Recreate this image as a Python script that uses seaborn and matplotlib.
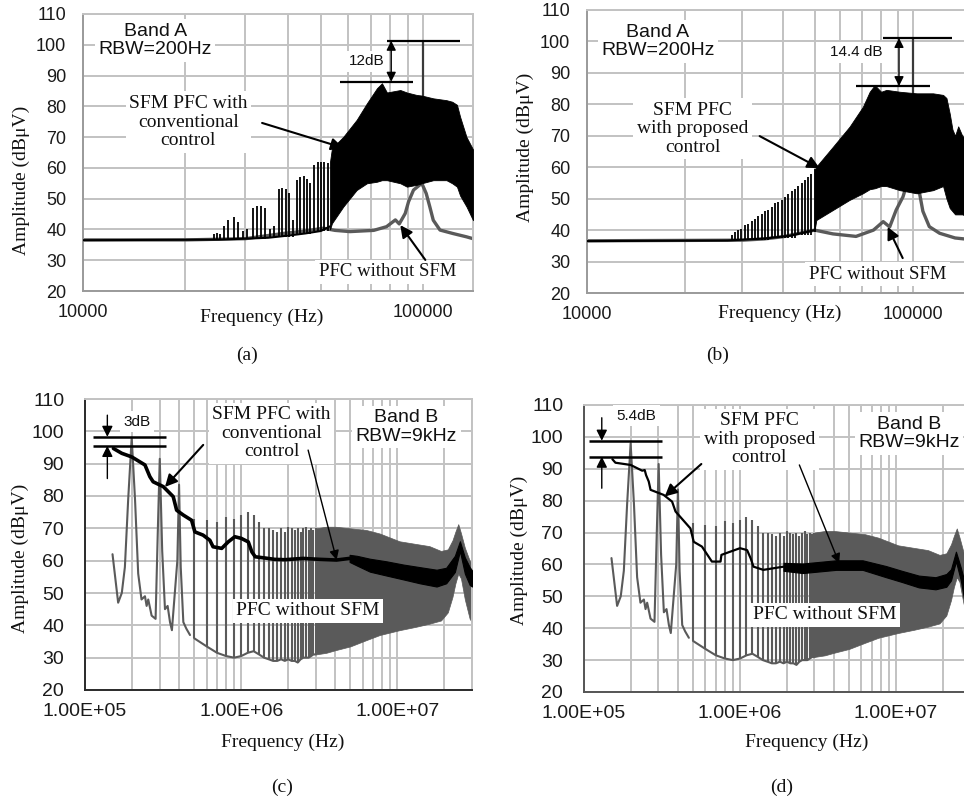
import seaborn as sns
import matplotlib.pyplot as plt
from matplotlib.ticker import NullFormatter

W, H = 964, 808
SANS = ['Liberation Sans', 'DejaVu Sans']
SERIF = ['Liberation Serif', 'DejaVu Serif']
GRID = '#c2c2c2'
GRAY = '#5a5a5a'

# ---------------- Band A, panel (a): conventional control ----------------
a_gray_f = [10000, 20000, 30000, 38800, 45000, 50900, 55000, 60900, 71500, 78000, 82800, 85000,
            88500, 90500, 93600, 96500, 99000, 102000, 104500, 107000, 112000, 122000, 134000, 140000]
a_gray_db = [36.6, 36.6, 37.0, 38.7, 39.5, 40.4, 39.7, 39.3, 39.7, 40.9, 43.1, 41.8,
             45.2, 49.0, 52.8, 54.0, 55.0, 51.7, 47.4, 43.0, 39.8, 38.7, 37.6, 37.0]
a_peak = [100000, 55.0, 101.3]

a_base_f = [10000, 25000, 30000, 35000, 40000, 45000, 50000, 53200]
a_base_db = [36.5, 36.7, 37.0, 37.3, 38.0, 38.7, 39.5, 41.0]

a_spk_f = [24300, 24800, 25300, 25900, 26700, 27700, 28600, 29600, 30300, 31600, 32500, 33400,
           34200, 35500, 36500, 37700, 38500, 39400, 40300, 41300, 42500, 43500, 44500, 45500,
           46500, 47800, 48900, 50100, 51200, 52500]
a_spk_db = [38.5, 39.0, 38.5, 41.0, 43.0, 44.0, 42.5, 39.5, 40.0, 47.0, 47.5, 47.5,
            47.0, 40.0, 41.0, 53.0, 53.5, 53.0, 52.0, 43.0, 56.0, 57.0, 57.5, 56.5,
            55.0, 61.0, 62.0, 62.0, 62.0, 61.5]
a_spk_lo = [36.8, 36.8, 36.8, 36.8, 36.8, 36.8, 36.8, 36.8, 36.8, 36.8, 36.8, 36.8,
            36.8, 37.5, 37.5, 37.5, 37.5, 37.5, 37.5, 37.5, 38.5, 38.5, 38.5, 38.5,
            38.5, 39.5, 39.5, 39.5, 39.5, 39.5]

a_band_f = [53200, 53900, 58200, 63700, 68300, 73100, 75600, 78200, 85600, 89500, 95600, 99000,
            107000, 117000, 121600, 125600, 128300, 134000, 140000]
a_band_hi = [62, 66.4, 70.1, 75.6, 81.0, 85.9, 87.5, 84.5, 85.3, 84.5, 83.7, 83.5,
             82.6, 82.0, 81.5, 80.5, 76.6, 70.0, 66.0]
a_band_lo = [40, 42.0, 47.4, 52.8, 55.0, 55.5, 56.0, 56.0, 55.0, 53.9, 54.5, 55.0,
             56.0, 56.0, 55.0, 53.9, 51.0, 47.4, 43.0]

# ---------------- Band A, panel (b): proposed control ----------------
b_gray_f = [10000, 30000, 35000, 40000, 50000, 56900, 67000, 75800, 81200, 85000, 89000,
            93400, 95500, 98000, 102000, 105000, 107500, 112500, 121000, 135000, 150000]
b_gray_db = [36.6, 36.8, 37.2, 37.9, 40.0, 38.8, 38.0, 40.0, 42.7, 41.0, 46.4,
             50.6, 53.9, 55.0, 53.0, 51.7, 46.0, 41.1, 39.0, 37.5, 37.0]
b_peak = [100000, 55.0, 101.1]

b_base_f = [10000, 27000, 35000, 42000, 50000]
b_base_db = [36.5, 36.7, 37.3, 38.2, 40.0]

b_spk_f = [27800, 28400, 29100, 29800, 30500, 31300, 32000, 32800, 33500, 34400, 35200, 36000,
           36900, 37700, 38600, 39600, 40500, 41400, 42500, 43500, 44500, 45600, 46600, 47700,
           48900, 50000]
b_spk_db = [38.5, 39.5, 40.0, 40.5, 41.5, 42.0, 43.0, 43.5, 44.5, 45.0, 46.0, 46.5,
            47.5, 48.5, 49.0, 49.5, 50.5, 51.5, 52.5, 53.0, 54.0, 55.0, 56.0, 57.0,
            58.0, 59.5]
b_spk_lo = [36.8, 36.8, 36.8, 36.8, 36.8, 36.8, 36.8, 36.8, 36.8, 36.8, 36.8, 36.8,
            37.5, 37.5, 37.5, 37.5, 37.5, 37.5, 37.5, 37.5, 38.5, 38.5, 38.5, 38.5,
            38.5, 39.5]

b_band_f = [50000, 50600, 56900, 64000, 70300, 73800, 76500, 80000, 83100, 91300, 102900,
            115500, 124000, 127000, 130000, 132500, 135000, 138000, 142000, 150000]
b_band_hi = [59, 60.2, 66.5, 72.9, 79.2, 84.0, 86.1, 84.0, 84.6, 84.0, 83.5,
             83.5, 83.0, 82.0, 77.0, 72.0, 70.0, 73.0, 70.0, 68.0]
b_band_lo = [40, 43.2, 46.4, 49.6, 51.7, 53.0, 53.3, 54.0, 54.0, 52.7, 51.7,
             52.7, 54.0, 50.0, 47.0, 46.0, 45.0, 45.0, 45.0, 44.0]

# ---------------- Band B, PFC without SFM (same in (c) and (d)) ----------------
cd_gray_f = [1.50e5, 1.63e5, 1.72e5, 1.80e5, 1.89e5, 1.99e5, 2.09e5, 2.19e5, 2.30e5, 2.42e5,
             2.48e5, 2.54e5, 2.67e5, 2.83e5, 2.92e5, 3.01e5, 3.12e5, 3.25e5, 3.38e5, 3.50e5,
             3.60e5, 3.90e5, 4.00e5, 4.10e5, 4.26e5, 4.45e5, 4.70e5]
cd_gray_db = [62, 47, 50, 58, 79, 98, 79, 56, 48, 49,
              46, 48, 43, 42, 68, 91.5, 63, 45, 46, 41,
              38.5, 60, 83.5, 58, 41, 39, 37]

cd_spk_f = [5.0e5, 6.0e5, 7.0e5, 8.0e5, 9.0e5, 1.0e6, 1.1e6, 1.2e6, 1.3e6, 1.4e6, 1.5e6, 1.6e6,
            1.7e6, 1.8e6, 1.9e6, 2.0e6, 2.1e6, 2.2e6, 2.3e6, 2.4e6, 2.5e6, 2.6e6, 2.7e6, 2.8e6,
            2.9e6, 3.0e6]
cd_spk_db = [73, 72.5, 72, 73.5, 73, 74, 75, 74, 72, 70, 70, 69.5,
             69, 70, 69, 70.5, 70, 69.5, 70, 69, 70, 70.5, 69.5, 70,
             69.5, 70]
cd_spk_lo = [36, 33.5, 31.5, 30.5, 30, 30.5, 31.5, 32, 31, 30, 29.5, 29,
             29, 29.5, 29, 29.5, 29, 29, 28.5, 29.5, 30, 30, 30, 30.5,
             31, 31]

cd_band_f = [3.0e6, 3.5e6, 4.0e6, 5.0e6, 6.3e6, 7.7e6, 1.03e7, 1.3e7, 1.6e7, 1.9e7, 2.1e7,
             2.25e7, 2.35e7, 2.45e7, 2.55e7, 2.7e7, 2.9e7, 3.0e7]
cd_band_hi = [70, 70.5, 70.5, 70, 69.5, 68.4, 66, 65.2, 64.5, 63, 63.5,
              66.3, 69, 71.3, 68.5, 64, 60, 59]
cd_band_lo = [31, 31.5, 32.3, 33.5, 35.4, 37, 38.5, 39.5, 40.5, 41.5, 44,
              48.8, 53, 56, 54.5, 48, 42, 41]

# ---------------- Band B, panel (c): conventional control ----------------
c_blk_f = [1.52e5, 1.72e5, 1.99e5, 2.42e5, 2.60e5, 2.73e5, 3.17e5, 3.67e5, 3.86e5, 4.26e5,
           4.81e5, 5.05e5, 5.70e5, 6.30e5, 6.60e5, 7.50e5, 8.25e5, 9.10e5, 1.00e6, 1.11e6,
           1.17e6, 1.23e6, 1.43e6, 1.64e6, 1.90e6, 2.49e6, 3.2e6, 4.07e6, 4.94e6]
c_blk_db = [94.7, 93.2, 92.1, 89.6, 86.0, 84.4, 82.9, 79.8, 75.6, 74.1,
            72.5, 68.9, 67.9, 66.3, 64.3, 63.8, 65.8, 67.4, 66.9, 65.8,
            62.7, 61.2, 60.8, 60.4, 60.3, 60.7, 60.4, 60.2, 60.7]
c_bb_f = [4.94e6, 5.5e6, 6.66e6, 8.5e6, 1.09e7, 1.39e7, 1.78e7, 2.05e7, 2.33e7, 2.51e7,
          2.7e7, 2.9e7, 3.0e7]
c_bb_hi = [61.8, 61.5, 60.6, 59.8, 58.8, 58.0, 57.2, 57.8, 61.5, 66.0, 61.0, 58.0, 57.0]
c_bb_lo = [59.6, 58.5, 56.6, 55.4, 54.2, 53.0, 52.0, 53.0, 56.5, 63.0, 56.0, 52.5, 52.0]

# ---------------- Band B, panel (d): proposed control ----------------
d_blk_f = [1.52e5, 1.59e5, 1.99e5, 2.36e5, 2.45e5, 2.50e5, 2.60e5, 2.67e5, 3.24e5, 3.67e5,
           3.86e5, 4.81e5, 5.05e5, 5.70e5, 6.30e5, 6.60e5, 7.50e5, 7.60e5, 8.65e5, 1.00e6,
           1.11e6, 1.17e6, 1.22e6, 1.41e6, 1.90e6]
d_blk_db = [93.0, 91.9, 91.2, 89.4, 89.6, 88.0, 86.0, 83.4, 81.8, 79.7,
            76.6, 71.3, 67.1, 65.6, 62.4, 60.9, 60.9, 63.0, 64.0, 65.1,
            64.5, 61.9, 59.3, 58.3, 59.3]
d_bb_f = [1.9e6, 2.52e6, 4.12e6, 6.1e6, 8.62e6, 1.09e7, 1.4e7, 1.79e7, 2.1e7, 2.25e7,
          2.42e7, 2.6e7, 2.8e7]
d_bb_hi = [60.5, 60.3, 61.3, 61.3, 59.5, 58.0, 56.5, 56.0, 57.0, 58.5, 64.0, 59.0, 53.0]
d_bb_lo = [58.0, 57.3, 58.3, 58.3, 56.0, 54.5, 52.8, 52.2, 53.0, 55.0, 61.0, 55.0, 46.0]

y_ticks = list(range(20, 111, 10))
a_major = [1e4, 1e5]
a_major_lbl = ['10000', '100000']
a_minor = [2e4, 3e4, 4e4, 5e4, 6e4, 7e4, 8e4, 9e4]
c_major = [1e5, 1e6, 1e7]
c_major_lbl = ['1.00E+05', '1.00E+06', '1.00E+07']
c_minor = [2e5, 3e5, 4e5, 5e5, 6e5, 7e5, 8e5, 9e5, 2e6, 3e6, 4e6, 5e6, 6e6, 7e6, 8e6, 9e6, 2e7, 3e7]

sns.set_theme(style='white')
plt.rcParams['font.family'] = SANS

fig = plt.figure(figsize=(W / 100, H / 100), dpi=100)


def px_box(l, t, r, b):
    return [l / W, 1 - b / H, (r - l) / W, (b - t) / H]


def fig_text(x, y, s, **kw):
    fig.text(x / W, 1 - y / H, s, ha='center', va='center', **kw)


def make_axes(box, major, lbl, minor, tsize, ypad, spine_col):
    ax = fig.add_axes(px_box(*box))
    ax.set_xscale('log')
    ax.set_xticks(major)
    ax.set_xticklabels(lbl)
    ax.set_xticks(minor, minor=True)
    ax.xaxis.set_minor_formatter(NullFormatter())
    ax.set_yticks(y_ticks)
    ax.grid(True, which='both', color=GRID, lw=1.4)
    ax.set_axisbelow(True)
    ax.tick_params(which='both', length=0, labelsize=tsize, colors='#1a1a1a')
    ax.tick_params(axis='y', pad=ypad)
    ax.tick_params(axis='x', pad=9.5)
    for s in ax.spines.values():
        s.set_color(GRID)
        s.set_linewidth(1.4)
    ax.spines['left'].set_color(spine_col)
    ax.spines['bottom'].set_color(spine_col)
    return ax


def finish(ax, xlim):
    ax.set_xlim(*xlim)
    ax.set_ylim(20, 110)
    ax.set_xlabel('')
    ax.set_ylabel('')


def line(ax, f, db, color, lw, z):
    sns.lineplot(x=f, y=db, ax=ax, color=color, lw=lw, estimator=None, sort=False, zorder=z)


def note(ax, f, db, s, family, size):
    ax.text(f, db, s, family=family, fontsize=size, ha='center', va='center', linespacing=1.12,
            zorder=8, color='#111', bbox=dict(fc='white', ec='none', pad=2.5))


def arrow(ax, start, end, ms=18, lw=1.5, style='-|>'):
    ax.annotate('', xy=end, xytext=start, annotation_clip=False,
                arrowprops=dict(arrowstyle=style, color='black', lw=lw, mutation_scale=ms,
                                shrinkA=0, shrinkB=0), zorder=9)


def band_a(ax, gray_f, gray_db, peak, base_f, base_db, spk_f, spk_lo, spk_db, band_f, band_lo, band_hi):
    line(ax, gray_f, gray_db, GRAY, 2.4, 2)
    ax.vlines([peak[0]], [peak[1]], [peak[2]], color='#3a3a3a', lw=1.6, zorder=2)
    ax.vlines(spk_f, spk_lo, spk_db, color='black', lw=1.3, zorder=3)
    line(ax, base_f, base_db, 'black', 1.5, 3)
    ax.fill_between(band_f, band_lo, band_hi, color='black', lw=0.6, zorder=3)


def band_b(ax, blk_f, blk_db, bb_f, bb_lo, bb_hi, blk_lw):
    line(ax, cd_gray_f, cd_gray_db, GRAY, 1.5, 2)
    line(ax, cd_spk_f, cd_spk_lo, GRAY, 1.5, 2)
    ax.vlines(cd_spk_f, cd_spk_lo, cd_spk_db, color=GRAY, lw=1.5, zorder=2)
    ax.fill_between(cd_band_f, cd_band_lo, cd_band_hi, color=GRAY, lw=0.5, zorder=2)
    line(ax, blk_f, blk_db, 'black', blk_lw, 4)
    ax.fill_between(bb_f, bb_lo, bb_hi, color='black', lw=0.8, zorder=4)


# ---- (a) ----
ax = make_axes((83, 14, 473, 291), a_major, a_major_lbl, a_minor, 13, 12, '#9a9a9a')
band_a(ax, a_gray_f, a_gray_db, a_peak, a_base_f, a_base_db, a_spk_f, a_spk_lo, a_spk_db,
       a_band_f, a_band_lo, a_band_hi)
note(ax, 16.3e3, 101.4, 'Band A\nRBW=200Hz', SANS, 14)
note(ax, 20.4e3, 74.9, 'SFM PFC with\nconventional\ncontrol', SERIF, 14)
note(ax, 78.4e3, 26.2, 'PFC without SFM', SERIF, 13.5)
note(ax, 68e3, 94.7, '12dB', SANS, 11)
ax.hlines([101.3], 78e3, 128e3, color='black', lw=1.6, zorder=6)
ax.hlines([88.0], 57e3, 93.5e3, color='black', lw=1.6, zorder=6)
arrow(ax, (80.5e3, 101.3), (80.5e3, 88.0), ms=14, lw=1.0, style='<|-|>')
arrow(ax, (33.6e3, 74.6), (58.2e3, 66.5))
arrow(ax, (101.4e3, 30.1), (85.6e3, 41.4))
finish(ax, (1e4, 1.4e5))

# ---- (b) ----
ax = make_axes((587, 10, 970, 293), a_major, a_major_lbl, a_minor, 13, 12, '#9a9a9a')
band_a(ax, b_gray_f, b_gray_db, b_peak, b_base_f, b_base_db, b_spk_f, b_spk_lo, b_spk_db,
       b_band_f, b_band_lo, b_band_hi)
note(ax, 16.5e3, 100.0, 'Band A\nRBW=200Hz', SANS, 14)
note(ax, 21.1e3, 72.2, 'SFM PFC\nwith proposed\ncontrol', SERIF, 14)
note(ax, 78.1e3, 26.0, 'PFC without SFM', SERIF, 13.5)
note(ax, 67.3e3, 96.6, '14.4 dB', SANS, 11)
ax.hlines([101.1], 81e3, 132e3, color='black', lw=1.6, zorder=6)
ax.hlines([85.8], 66.9e3, 112.7e3, color='black', lw=1.6, zorder=6)
arrow(ax, (90.8e3, 101.1), (90.8e3, 85.8), ms=14, lw=1.0, style='<|-|>')
arrow(ax, (33.9e3, 69.9), (51.8e3, 59.7))
arrow(ax, (93.2e3, 31.1), (83.8e3, 41.0))
finish(ax, (1e4, 1.5e5))

# ---- (c) ----
ax = make_axes((85, 399, 472, 690), c_major, c_major_lbl, c_minor, 14, 15, '#2a2a2a')
band_b(ax, c_blk_f, c_blk_db, c_bb_f, c_bb_lo, c_bb_hi, 2.6)
note(ax, 1.14e7, 101.4, 'Band B\nRBW=9kHz', SANS, 14)
note(ax, 1.565e6, 99.4, 'SFM PFC with\nconventional\ncontrol', SERIF, 14)
note(ax, 2.68e6, 44.5, 'PFC without SFM', SERIF, 14)
note(ax, 2.15e5, 103.0, '3dB', SANS, 11)
ax.hlines([98.3, 95.5], 1.12e5, 3.28e5, color='black', lw=1.8, zorder=6)
arrow(ax, (1.39e5, 105.0), (1.39e5, 98.3), ms=16, lw=1.0)
arrow(ax, (1.39e5, 85.4), (1.39e5, 95.5), ms=16, lw=1.0)
arrow(ax, (5.71e5, 95.8), (3.25e5, 82.8))
arrow(ax, (2.68e6, 94.2), (4.08e6, 60.2), ms=14, lw=1.0)
finish(ax, (1e5, 3e7))

# ---- (d) ----
ax = make_axes((584, 405, 970.5, 692), c_major, c_major_lbl, c_minor, 14, 15, '#555555')
band_b(ax, d_blk_f, d_blk_db, d_bb_f, d_bb_lo, d_bb_hi, 1.6)
note(ax, 1.21e7, 101.1, 'Band B\nRBW=9kHz', SANS, 14)
note(ax, 1.33e6, 99.2, 'SFM PFC\nwith proposed\ncontrol', SERIF, 14)
note(ax, 3.47e6, 44.2, 'PFC without SFM', SERIF, 14)
note(ax, 2.17e5, 106.6, '5.4dB', SANS, 11)
ax.hlines([98.8, 93.8], 1.08e5, 3.18e5, color='black', lw=1.8, zorder=6)
arrow(ax, (1.3e5, 106.0), (1.3e5, 98.8), ms=16, lw=1.0)
arrow(ax, (1.3e5, 83.9), (1.3e5, 93.8), ms=16, lw=1.0)
arrow(ax, (5.65e5, 91.5), (3.29e5, 81.3))
arrow(ax, (2.4e6, 91.2), (4.32e6, 60.4), ms=14, lw=1.0)
finish(ax, (1e5, 3e7))

# axis titles and panel letters
for x, y in [(21.7, 180), (525, 147), (20.7, 558), (519.3, 550)]:
    fig_text(x, y, 'Amplitude (dBμV)', rotation=90, family=SERIF, fontsize=14, color='#111')
for x, y in [(262, 317), (780, 313), (283, 742), (807, 742)]:
    fig_text(x, y, 'Frequency (Hz)', family=SERIF, fontsize=14, color='#111')
for x, y, s in [(247, 355, '(a)'), (718, 355, '(b)'), (282, 787, '(c)'), (782, 787, '(d)')]:
    fig_text(x, y, s, family=SERIF, fontsize=14, color='#111')

fig.savefig('out.png', dpi=100, facecolor='white')
